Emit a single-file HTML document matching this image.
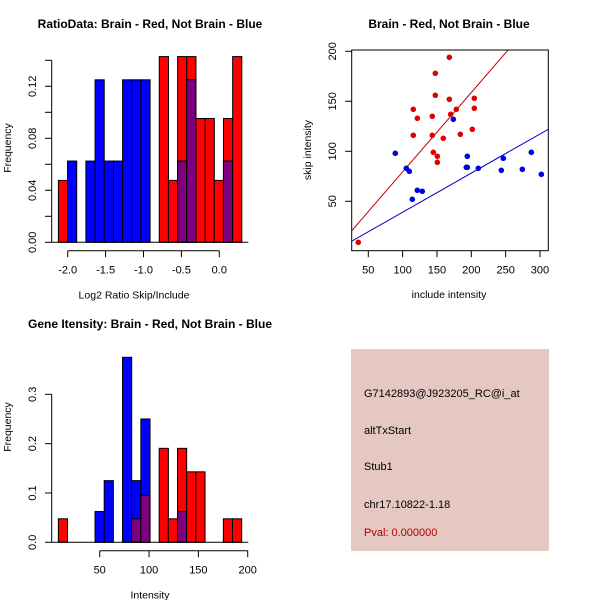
<!DOCTYPE html>
<html><head><meta charset="utf-8"><style>
html,body{margin:0;padding:0;background:#fff;}
svg{display:block;font-family:"Liberation Sans",sans-serif;}
</style></head><body>
<svg id="c" width="600" height="600" viewBox="0 0 600 600" xmlns="http://www.w3.org/2000/svg">
<rect x="0" y="0" width="600" height="600" fill="#fff"/>
<rect x="351" y="349" width="198" height="202" fill="#e5c8c2"/>
<g font-size="11">
<text x="364" y="397">G7142893@J923205_RC@i_at</text>
<text x="364" y="434">altTxStart</text>
<text x="364" y="470">Stub1</text>
<text x="364" y="508">chr17.10822-1.18</text>
<text x="364" y="536" fill="#b00000">Pval: 0.000000</text>
</g>
</svg>
<script>
// ---- Ratio histogram data ----
const ratioBinStart = -2.123;
const ratioBinWidth = 0.121;
const ratioRed  = [1/21,0,0,0,0,0,0,0,0,0,0,3/21,1/21,3/21,3/21,2/21,2/21,1/21,2/21,3/21];
const ratioBlue = [0,1/16,0,1/16,2/16,1/16,1/16,2/16,2/16,2/16,0,0,0,1/16,2/16,0,0,0,1/16,0];
const ratioXTicks = [-2.0,-1.5,-1.0,-0.5,0.0];
const ratioXLabels = ["-2.0","-1.5","-1.0","-0.5","0.0"];
const ratioYTicks = [0,0.02,0.04,0.06,0.08,0.10,0.12,0.14];
const ratioYLabels = ["0.00","","0.04","","0.08","","0.12",""];
// ---- Intensity histogram data ----
const intBinStart = 8.1;
const intBinWidth = 9.29;
const intRed  = [1/21,0,0,0,0,0,0,0,1/21,2/21,0,4/21,1/21,4/21,3/21,3/21,0,0,1/21,1/21];
const intBlue = [0,0,0,0,1/16,2/16,0,6/16,2/16,4/16,0,0,0,1/16,0,0,0,0,0,0];
const intXTicks = [50,100,150,200];
const intXLabels = ["50","100","150","200"];
const intYTicks = [0,0.1,0.2,0.3];
const intYLabels = ["0.0","0.1","0.2","0.3"];
// ---- Scatter data ----
const brainInclude = [35.4,115.5,121.4,115.5,143.2,143.2,147.6,147.6,144.7,150.5,150.5,159.2,168,168,169.9,178.2,184,201.5,204.4,204.4];
const brainSkip    = [9,142,133,116,135,116,178,156,99,95,89,113,194,152,137,142,117,122,153,143];
const otherInclude = [89.3,105.3,109.7,114.1,121.4,128.6,173.8,194.2,192.7,194.2,210.2,243.7,246.6,274.3,287.4,302];
const otherSkip    = [98,83,80,52,61,60,132,95,84,84,83,81,93,82,99,77];
const brainSlope = 0.794;
const otherSlope = 0.391;
const scXTicks = [50,100,150,200,250,300];
const scYTicks = [50,100,150,200];

const NS="http://www.w3.org/2000/svg";
const svg=document.getElementById('c');
function mk(tag,attrs,parent){const e=document.createElementNS(NS,tag);for(const k in attrs)e.setAttribute(k,attrs[k]);(parent||svg).appendChild(e);return e;}
function txt(x,y,s,opts,parent){const e=mk('text',Object.assign({x:x,y:y,'text-anchor':'middle','font-size':11},opts||{}),parent);e.textContent=s;return e;}

function histogram(cfg){
  const g=mk('g',{});
  
  
  const sx=v=>cfg.x0+(v-cfg.xv0)*cfg.xs;
  const sy=v=>cfg.base-v*cfg.ys;
  const n=cfg.red.length;
  for(let i=0;i<n;i++){
    const a=sx(cfg.start+i*cfg.width), b=sx(cfg.start+(i+1)*cfg.width);
    const r=cfg.red[i], bl=cfg.blue[i];
    if(r>0){const e=mk('rect',{x:a,y:sy(r),width:b-a,height:r*cfg.ys,fill:'#ff0000',stroke:'#000','stroke-width':1},g);
      
      }
    if(bl>0){const e=mk('rect',{x:a,y:sy(bl),width:b-a,height:bl*cfg.ys,fill:'#0000ff',stroke:'#000','stroke-width':1},g);
      
      }
    if(r>0&&bl>0){const m=Math.min(r,bl);const e=mk('rect',{x:a,y:sy(m),width:b-a,height:m*cfg.ys,fill:'#7f007f',stroke:'#000','stroke-width':1},g);
      
      }
  }
  mk('line',{x1:51.7,x2:248.3,y1:cfg.base,y2:cfg.base,stroke:'#000'},g);
  // y axis
  const yt=cfg.yTicks;
  mk('line',{x1:51.7,x2:51.7,y1:sy(yt[0]),y2:sy(yt[yt.length-1]),stroke:'#000'},g);
  yt.forEach((v,i)=>{mk('line',{x1:45,x2:51.7,y1:sy(v),y2:sy(v),stroke:'#000'},g);
    if(cfg.yLabels[i]){const t=txt(36,sy(v),cfg.yLabels[i],{transform:`rotate(-90 36 ${sy(v)})`},g);
      
      }});
  // x axis
  const xt=cfg.xTicks, ax=cfg.base+8.4;
  mk('line',{x1:sx(xt[0]),x2:sx(xt[xt.length-1]),y1:ax,y2:ax,stroke:'#000'},g);
  xt.forEach((v,i)=>{mk('line',{x1:sx(v),x2:sx(v),y1:ax,y2:ax+6.5,stroke:'#000'},g);
    const t=txt(sx(v),ax+23,cfg.xLabels[i],{},g);
    
    });
  const ti=txt(150,cfg.titleY,cfg.title,{'font-weight':'bold','font-size':12},g);
  
  
  const xl=txt(cfg.xlx,cfg.base+56,cfg.xlabel,{'font-size':10.5},g);
  
  
  const yc=cfg.ymid;
  const yl=txt(11,yc,'Frequency',{'font-size':10.5,transform:`rotate(-90 11 ${yc})`},g);
  
  
}

histogram({name:'ratio-histogram',red:ratioRed,blue:ratioBlue,start:ratioBinStart,width:ratioBinWidth,
  x0:67.7,xv0:-2.0,xs:75.8,base:242.3,ys:1300,xTicks:ratioXTicks,xLabels:ratioXLabels,
  yTicks:ratioYTicks,yLabels:ratioYLabels,title:'RatioData: Brain - Red, Not Brain - Blue',titleY:28,
  xlabel:'Log2 Ratio Skip/Include',xlx:134,ymid:148});
histogram({name:'intensity-histogram',red:intRed,blue:intBlue,start:intBinStart,width:intBinWidth,
  x0:99.7,xv0:50,xs:0.9867,base:542.3,ys:493.3,xTicks:intXTicks,xLabels:intXLabels,
  yTicks:intYTicks,yLabels:intYLabels,title:'Gene Itensity: Brain - Red, Not Brain - Blue',titleY:328,
  xlabel:'Intensity',xlx:150,ymid:427});

// scatter
(function(){
  const g=mk('g',{});
  
  
  const L=351.7,R=548.3,T=50,B=250.7;
  const sx=v=>368.3+(v-50)*0.6867;
  const sy=v=>201.3-(v-50)*1.0;
  const clip=mk('clipPath',{id:'scclip'},g);
  mk('rect',{x:L,y:T,width:R-L,height:B-T},clip);
  const inv=x=>50+(x-368.3)/0.6867;
  const xa=inv(L),xb=inv(R);
  const l1=mk('line',{x1:sx(xa),y1:sy(brainSlope*xa),x2:sx(xb),y2:sy(brainSlope*xb),stroke:'#c00000','clip-path':'url(#scclip)'},g);
  
  
  const l2=mk('line',{x1:sx(xa),y1:sy(otherSlope*xa),x2:sx(xb),y2:sy(otherSlope*xb),stroke:'#0000c0','clip-path':'url(#scclip)'},g);
  
  
  brainInclude.forEach((v,i)=>{const c=mk('circle',{cx:sx(v),cy:sy(brainSkip[i]),r:2.8,fill:'#e00000'},g);
    
    });
  otherInclude.forEach((v,i)=>{const c=mk('circle',{cx:sx(v),cy:sy(otherSkip[i]),r:2.8,fill:'#0000e0'},g);
    
    });
  mk('rect',{x:L,y:T,width:R-L,height:B-T,fill:'none',stroke:'#000'},g);
  scXTicks.forEach(v=>{mk('line',{x1:sx(v),x2:sx(v),y1:B,y2:B+6.5,stroke:'#000'},g);
    const t=txt(sx(v),B+23,String(v),{},g);
    
    });
  scYTicks.forEach(v=>{mk('line',{x1:L-6.5,x2:L,y1:sy(v),y2:sy(v),stroke:'#000'},g);
    const t=txt(336,sy(v),String(v),{transform:`rotate(-90 336 ${sy(v)})`},g);
    
    });
  const ti=txt(449,28,'Brain - Red, Not Brain - Blue',{'font-weight':'bold','font-size':12},g);
  
  
  const xl=txt(449,298,'include intensity',{'font-size':10.5},g);
  
  
  const yl=txt(311,150,'skip intensity',{'font-size':10.5,transform:'rotate(-90 311 150)'},g);
  
  
})();
</script>
</body></html>
